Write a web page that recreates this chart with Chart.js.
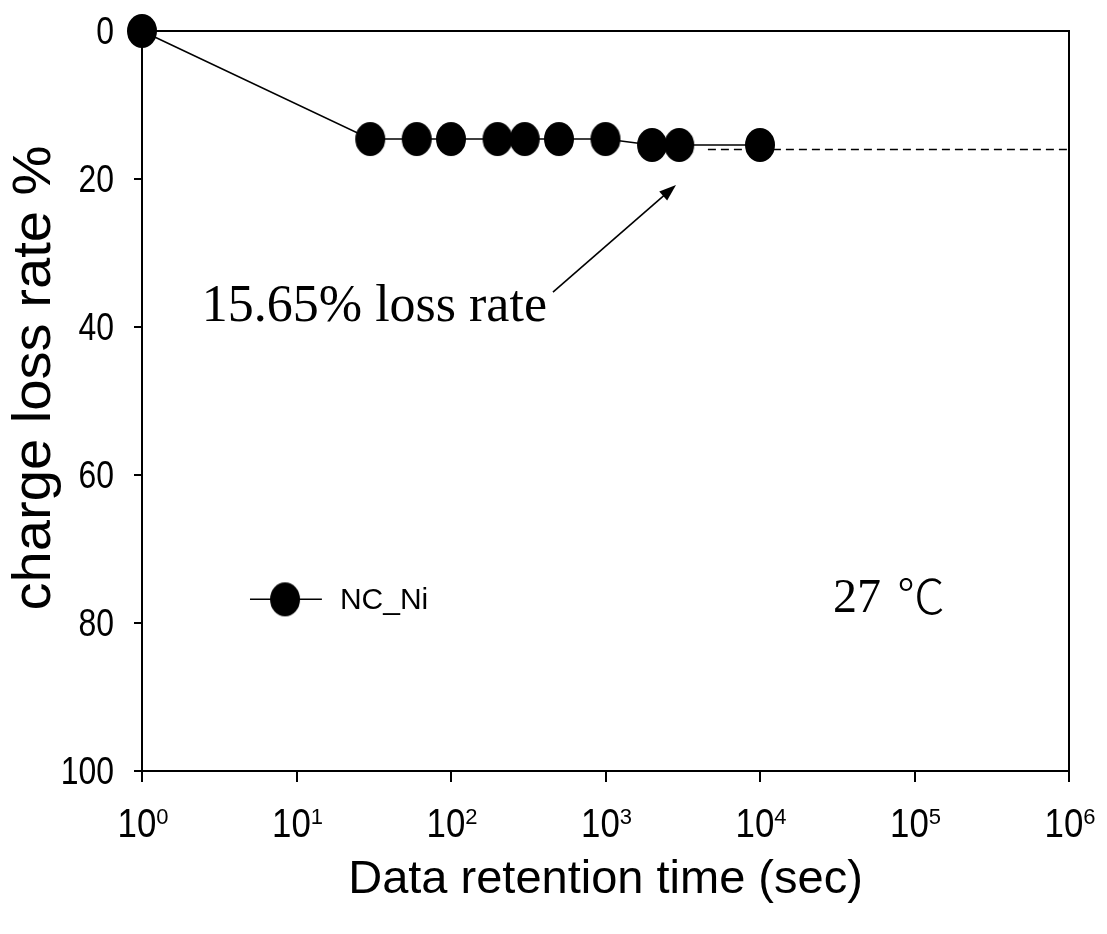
<!DOCTYPE html>
<html>
<head>
<meta charset="utf-8">
<title>charge loss rate</title>
<script src="https://cdn.jsdelivr.net/npm/chart.js@4.4.0/dist/chart.umd.min.js"></script>
<style>
  html, body { margin: 0; padding: 0; background: #fff; }
  canvas { display: block; }
</style>
</head>
<body>
<canvas id="chart" width="1107" height="934"></canvas>
<script>
"use strict";
// retention time (sec) vs charge loss rate (%)
const times = [1, 30, 60, 100, 200, 300, 500, 1000, 2000, 3000, 10000];
const lossRates = [0, 14.6, 14.6, 14.6, 14.6, 14.6, 14.6, 14.6, 15.4, 15.4, 15.4];
// dashed extrapolation line
const extrapTimes = [4600, 1000000];
const extrapRates = [16.0, 16.0];
const xTickExps = [0, 1, 2, 3, 4, 5, 6];
const yTicks = [0, 20, 40, 60, 80, 100];
const seriesLabel = "NC_Ni";
const xTitle = "Data retention time (sec)";
const yTitle = "charge loss rate %";
const noteText = "15.65% loss rate";
const tempValue = "27 ";
const tempUnit = "℃";

const SANS = "'Liberation Sans', Arial, sans-serif";
const SERIF = "'Liberation Serif', 'Times New Roman', serif";
const CJK = "'Noto Sans CJK SC', 'Noto Sans CJK JP', sans-serif";

// slightly tall ellipse marker like the original
const marker = document.createElement("canvas");
marker.width = 32;
marker.height = 36;
(function () {
    const c = marker.getContext("2d");
    c.fillStyle = "#000";
    c.beginPath();
    c.ellipse(16, 18, 15, 17, 0, 0, Math.PI * 2);
    c.fill();
})();

function drawText(ctx, text, x, y, font, align, sx) {
    ctx.save();
    ctx.translate(x, y);
    ctx.scale(sx || 1, 1);
    ctx.font = font;
    ctx.textAlign = align;
    ctx.textBaseline = "alphabetic";
    ctx.fillStyle = "#000";
    ctx.fillText(text, 0, 0);
    ctx.restore();
}

const framePlugin = {
    id: "frame",
    beforeDatasetsDraw(chart) {
        const ctx = chart.ctx;
        const a = chart.chartArea;
        const xs = chart.scales.x, ys = chart.scales.y;
        ctx.save();
        ctx.strokeStyle = "#000";
        ctx.lineWidth = 2;
        ctx.strokeRect(a.left, a.top, a.right - a.left, a.bottom - a.top);
        ctx.beginPath();
        for (const v of yTicks) {
            const py = Math.round(ys.getPixelForValue(v));
            ctx.moveTo(a.left - 8, py);
            ctx.lineTo(a.left, py);
        }
        for (const e of xTickExps) {
            const px = Math.round(xs.getPixelForValue(Math.pow(10, e)));
            ctx.moveTo(px, a.bottom);
            ctx.lineTo(px, a.bottom + 11);
        }
        ctx.stroke();
        ctx.restore();
    },
    afterDatasetsDraw(chart) {
        const ctx = chart.ctx;
        const a = chart.chartArea;
        const xs = chart.scales.x, ys = chart.scales.y;

        // y tick labels
        for (const v of yTicks) {
            const py = ys.getPixelForValue(v);
            drawText(ctx, String(v), a.left - 28, py + 13, "38px " + SANS, "right", 0.84);
        }
        // x tick labels 10^n
        for (const e of xTickExps) {
            const px = xs.getPixelForValue(Math.pow(10, e));
            ctx.font = "40px " + SANS;
            const w1 = ctx.measureText("10").width * 0.87;
            ctx.font = "22px " + SANS;
            const w2 = ctx.measureText(String(e)).width;
            const x0 = px - (w1 + w2) / 2 + 1;
            drawText(ctx, "10", x0, 837, "40px " + SANS, "left", 0.87);
            drawText(ctx, String(e), x0 + w1, 824, "22px " + SANS, "left", 1);
        }
        // axis titles
        drawText(ctx, xTitle, (a.left + a.right) / 2, 893, "47px " + SANS, "center", 1);
        ctx.save();
        ctx.translate(50, 378);
        ctx.rotate(-Math.PI / 2);
        drawText(ctx, yTitle, 0, 0, "54px " + SANS, "center", 1.04);
        ctx.restore();

        // annotation + arrow
        const tx = xs.getPixelForValue(418), ty = ys.getPixelForValue(39.2);
        drawText(ctx, noteText, tx, ty, "52px " + SERIF, "right", 1);
        const x1 = xs.getPixelForValue(457), y1 = ys.getPixelForValue(35.3);
        const x2 = xs.getPixelForValue(2860), y2 = ys.getPixelForValue(20.8);
        const ang = Math.atan2(y2 - y1, x2 - x1);
        ctx.save();
        ctx.strokeStyle = "#000";
        ctx.fillStyle = "#000";
        ctx.lineWidth = 1.6;
        ctx.beginPath();
        ctx.moveTo(x1, y1);
        ctx.lineTo(x2 - 12 * Math.cos(ang), y2 - 12 * Math.sin(ang));
        ctx.stroke();
        ctx.beginPath();
        ctx.moveTo(x2, y2);
        ctx.lineTo(x2 - 17 * Math.cos(ang) + 6 * Math.sin(ang), y2 - 17 * Math.sin(ang) - 6 * Math.cos(ang));
        ctx.lineTo(x2 - 17 * Math.cos(ang) - 6 * Math.sin(ang), y2 - 17 * Math.sin(ang) + 6 * Math.cos(ang));
        ctx.closePath();
        ctx.fill();
        ctx.restore();

        // legend
        const ly = ys.getPixelForValue(76.8);
        const lx0 = xs.getPixelForValue(5.0), lx1 = xs.getPixelForValue(14.6), lm = xs.getPixelForValue(8.43);
        ctx.save();
        ctx.strokeStyle = "#000";
        ctx.lineWidth = 1.5;
        ctx.beginPath();
        ctx.moveTo(lx0, ly);
        ctx.lineTo(lx1, ly);
        ctx.stroke();
        ctx.drawImage(marker, lm - 16, ly - 18);
        ctx.restore();
        drawText(ctx, seriesLabel, xs.getPixelForValue(19.1), ys.getPixelForValue(78.1), "30px " + SANS, "left", 1);

        // temperature
        const tpx = xs.getPixelForValue(29700), tpy = ys.getPixelForValue(78.5);
        ctx.font = "48px " + SERIF;
        const tw = ctx.measureText(tempValue).width;
        drawText(ctx, tempValue, tpx, tpy, "48px " + SERIF, "left", 1);
        drawText(ctx, tempUnit, tpx + tw + 4, tpy + 2, "300 48px " + CJK, "left", 1);
    }
};

new Chart("chart", {
    type: "line",
    data: {
        datasets: [{
                label: seriesLabel,
                data: times.map((t, i) => ({ x: t, y: lossRates[i] })),
                borderColor: "#000",
                borderWidth: 1.5,
                pointStyle: marker,
                pointRadius: 16,
                clip: false,
            }, {
                label: "extrapolation",
                data: extrapTimes.map((t, i) => ({ x: t, y: extrapRates[i] })),
                borderColor: "#000",
                borderWidth: 1.5,
                borderDash: [8, 5],
                pointRadius: 0,
                clip: false,
                order: 1,
            }],
    },
    options: {
        responsive: false,
        animation: false,
        layout: { padding: { left: 142, top: 31, right: 38, bottom: 163 } },
        plugins: { legend: { display: false }, tooltip: { enabled: false } },
        scales: {
            x: { type: "logarithmic", min: 1, max: 1000000, display: false },
            y: { type: "linear", min: 0, max: 100, reverse: true, display: false },
        },
    },
    plugins: [framePlugin],
});
</script>
</body>
</html>
